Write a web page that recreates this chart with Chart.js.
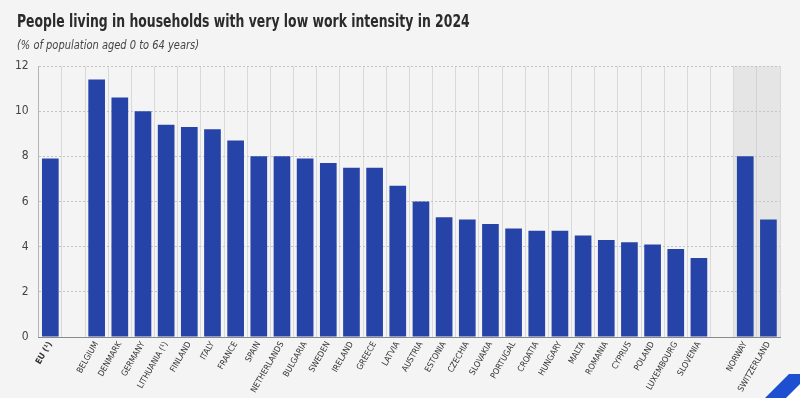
<!DOCTYPE html>
<html>
<head>
<meta charset="utf-8">
<script src="https://cdn.jsdelivr.net/npm/chart.js@4"></script>
<style>
  html, body { margin: 0; padding: 0; background: #f4f4f4; }
  #wrap { width: 800px; height: 398px; position: relative; }
  #chartTitle, #chartSub {
    position: absolute; left: 17px; margin: 0; white-space: nowrap;
    transform-origin: left top;
    font-family: 'Liberation Sans Narrow', 'DejaVu Sans Condensed', sans-serif;
  }
  #chartTitle { top: 11px; font-size: 17.5px; font-weight: bold; color: #2b2b2b; transform: scaleX(0.79); }
  #chartSub { top: 37px; font-size: 12.5px; font-style: italic; color: #444; transform: scaleX(0.88); }
</style>
</head>
<body>
<div id="wrap">
  <h1 id="chartTitle">People living in households with very low work intensity in 2024</h1>
  <div id="chartSub">(% of population aged 0 to 64 years)</div>
  <canvas id="lwiChart"></canvas>
</div>
<script>
// ===== Data =====
// empty labels / null values are the gaps between groups
const countries = [
    "EU (¹)", "",
    "BELGIUM", "DENMARK", "GERMANY", "LITHUANIA (¹)", "FINLAND", "ITALY", "FRANCE",
    "SPAIN", "NETHERLANDS", "BULGARIA", "SWEDEN", "IRELAND", "GREECE", "LATVIA",
    "AUSTRIA", "ESTONIA", "CZECHIA", "SLOVAKIA", "PORTUGAL", "CROATIA", "HUNGARY",
    "MALTA", "ROMANIA", "CYPRUS", "POLAND", "LUXEMBOURG", "SLOVENIA", "",
    "NORWAY", "SWITZERLAND"
];
const lwiValues = [
    7.9, null,
    11.4, 10.6, 10.0, 9.4, 9.3, 9.2, 8.7,
    8.0, 8.0, 7.9, 7.7, 7.5, 7.5, 6.7,
    6.0, 5.3, 5.2, 5.0, 4.8, 4.7, 4.7,
    4.5, 4.3, 4.2, 4.1, 3.9, 3.5, null,
    8.0, 5.2
];
const yTicks = [0, 2, 4, 6, 8, 10, 12];
const shadedFrom = "NORWAY"; // non-EU block gets a grey background

const FONT = "'Liberation Sans Narrow', 'DejaVu Sans Condensed', sans-serif";

// grey band behind the non-EU countries
const shadePlugin = {
    id: "shade",
    beforeDatasetsDraw(chart) {
        const { ctx, chartArea, scales } = chart;
        const idx = countries.indexOf(shadedFrom);
        const half = (scales.x.getPixelForValue(1) - scales.x.getPixelForValue(0)) / 2;
        const x0 = scales.x.getPixelForValue(idx) - half;
        ctx.save();
        ctx.fillStyle = "rgba(200,200,200,0.35)";
        ctx.fillRect(x0, chartArea.top, chartArea.right - x0, chartArea.bottom - chartArea.top);
        ctx.restore();
    }
};

// small corner mark bottom right
const cornerPlugin = {
    id: "corner",
    afterDraw(chart) {
        const { ctx, width, height } = chart;
        ctx.save();
        ctx.fillStyle = "#ffffff";
        ctx.beginPath();
        ctx.moveTo(width - 14, height);
        ctx.lineTo(width, height - 14);
        ctx.lineTo(width, height);
        ctx.closePath();
        ctx.fill();
        ctx.fillStyle = "#1d4fd0";
        ctx.beginPath();
        ctx.moveTo(width - 35, height);
        ctx.lineTo(width - 11, height - 24);
        ctx.lineTo(width, height - 24);
        ctx.lineTo(width, height - 14);
        ctx.lineTo(width - 14, height);
        ctx.closePath();
        ctx.fill();
        ctx.restore();
    }
};

const ctx = document.getElementById("lwiChart").getContext("2d");

const lwiChart = new Chart(ctx, {
    type: "bar",
    data: {
        labels: countries,
        datasets: [
            {
                data: lwiValues,
                backgroundColor: "#2644a7",
                borderWidth: 0,
                barPercentage: 0.72,
                categoryPercentage: 1.0
            }
        ]
    },
    options: {
        responsive: true,
        maintainAspectRatio: false,
        animation: false,
        layout: { padding: { left: 5, right: 20, top: 66, bottom: 3 } },
        plugins: {
            legend: { display: false },
            tooltip: { enabled: false }
        },
        scales: {
            x: {
                offset: true,
                afterFit: (axis) => { axis.height = 58; },
                grid: {
                    display: true,
                    offset: true,
                    color: (c) => c.index === 0 ? "#b5b5b5" : "#d9d9d9",
                    drawTicks: false
                },
                border: { display: true, color: "#8a8a8a", width: 1 },
                ticks: {
                    autoSkip: false,
                    maxRotation: 60,
                    minRotation: 60,
                    padding: 3,
                    color: "#333",
                    font: (c) => ({
                        family: FONT,
                        size: 8.5,
                        weight: c.index === 0 ? "bold" : "normal"
                    })
                }
            },
            y: {
                min: 0,
                max: 12,
                afterBuildTicks: (axis) => {
                    axis.ticks = yTicks.map(v => ({ value: v }));
                },
                grid: {
                    color: "#c4c4c4",
                    drawTicks: false
                },
                border: { display: false, dash: [2, 2] },
                ticks: {
                    padding: 10,
                    color: "#444",
                    font: { family: FONT, size: 12 }
                }
            }
        }
    },
    plugins: [shadePlugin, cornerPlugin]
});
</script>
</body>
</html>
